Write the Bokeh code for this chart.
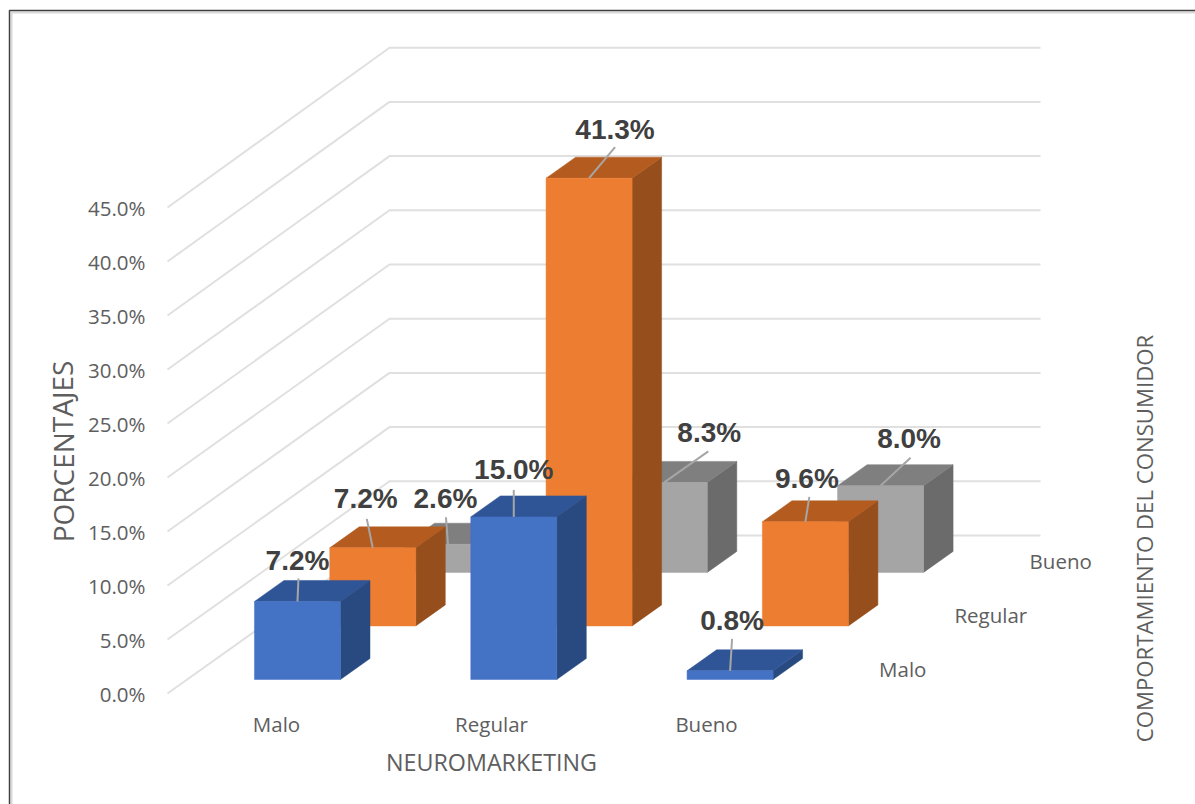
from bokeh.embed import file_html
from bokeh.resources import INLINE
from bokeh.models import Range1d, FixedTicker, PrintfTickFormatter, LinearAxis
from bokeh.plotting import figure
from bokeh.core.properties import value as fixed

# Cross-tabulated percentages: one row per consumer-behaviour level,
# one column per neuromarketing level.
neuromarketing = ["Malo", "Regular", "Bueno"]
comportamiento = ["Malo", "Regular", "Bueno"]
valores_malo = [7.2, 15.0, 0.8]
valores_regular = [7.2, 41.3, 9.6]
valores_bueno = [2.6, 8.3, 8.0]
ticks_pct = [0, 5, 10, 15, 20, 25, 30, 35, 40, 45]
titulo_y = "PORCENTAJES"
titulo_x = "NEUROMARKETING"
titulo_z = "COMPORTAMIENTO DEL CONSUMIDOR"

# Label and leader placement around each bar, in pixels from the middle of its top front edge
leader_px = {
    (0, 0): (1, 23), (1, 0): (0, 27), (2, 0): (2, 32),
    (0, 1): (-6, 29), (1, 1): (26, 31), (2, 1): (4, 25),
    (0, 2): (-2, 27), (1, 2): (44, 31), (2, 2): (30, 28),
}
etiqueta_px = {
    (0, 0): (0, 41), (1, 0): (0, 47), (2, 0): (2, 50),
    (0, 1): (-7, 49), (1, 1): (26, 49), (2, 1): (1.5, 43),
    (0, 2): (-2.5, 46), (1, 2): (45, 50), (2, 2): (28.5, 47),
}

# Oblique projection: x is measured in category steps, y in percentage points.
W, H = 1195, 804
CAT_PX = 216.3
PCT_PX = 10.84
FRONT_PCT_PX = 10.8    # the front edge of the side wall is very slightly compressed
X0_PX = 276
Y0_PX = 693
LEFT_PX = 167
DX = 222 / CAT_PX      # horizontal shift of the full floor depth
DY = 158 / PCT_PX      # vertical shift of the full floor depth
ROW_DEPTH = [0.0886, 0.4278, 0.7665]
BAR_DEPTH = 0.133
BAR_OFF = -0.1928
BAR_W = 86 / CAT_PX


def proj(x, v, d):
    return x + d * DX, v + d * DY


def px_x(px):
    return (px - X0_PX) / CAT_PX


def px_y(py):
    return (Y0_PX - py) / PCT_PX


COLORES = [
    ("#4472C4", "#2F5597", "#294A80"),
    ("#ED7D31", "#B45C1F", "#964F1C"),
    ("#A5A5A5", "#7F7F7F", "#6B6B6B"),
]
TXT = "#5E5E5E"
FONT = "Open Sans"

p = figure(width=W, height=H, output_backend="svg", toolbar_location=None,
           x_range=Range1d(px_x(0), px_x(W)), y_range=Range1d(px_y(H), px_y(0)),
           x_axis_location=None, y_axis_location=None,
           min_border=0, min_border_left=0, min_border_right=0,
           min_border_top=0, min_border_bottom=0)
p.outline_line_color = None
p.grid.visible = False
p.background_fill_color = "white"
p.border_fill_color = "white"
p.extra_y_ranges = {"frente": Range1d((Y0_PX - H) / FRONT_PCT_PX, Y0_PX / FRONT_PCT_PX)}

# Axes sit inside the plot area, at the front corner of the floor
yax = LinearAxis(y_range_name="frente", fixed_location=px_x(LEFT_PX))
yax.ticker = FixedTicker(ticks=ticks_pct)
yax.formatter = PrintfTickFormatter(format="%.1f%%")
yax.axis_line_color = None
yax.major_tick_line_color = None
yax.minor_tick_line_color = None
yax.major_label_text_font = FONT
yax.major_label_text_font_size = "20.5px"
yax.major_label_text_color = TXT
yax.major_label_standoff = 16
p.add_layout(yax, "left")

LABEL_STEP = 0.994
pos_x = [i * LABEL_STEP for i in range(len(neuromarketing))]
xax = LinearAxis(fixed_location=0)
xax.ticker = FixedTicker(ticks=pos_x)
xax.major_label_overrides = {t: n for t, n in zip(pos_x, neuromarketing)}
xax.axis_line_color = None
xax.major_tick_line_color = None
xax.minor_tick_line_color = None
xax.major_label_text_font = FONT
xax.major_label_text_font_size = "20.5px"
xax.major_label_text_color = TXT
xax.major_label_standoff = 10
p.add_layout(xax, "below")

# Side wall and back wall gridlines
wall_x, wall_y = [], []
for t in ticks_pct:
    x0 = px_x(LEFT_PX)
    y0 = t * FRONT_PCT_PX / PCT_PX
    x1, y1 = proj(x0, t, 1)
    wall_x.append([x0, x1, px_x(1040)])
    wall_y.append([y0, y1, y1])
p.multi_line(wall_x, wall_y, line_color="#E0E0E0", line_width=2)

# Bars, drawn from the back row forward
series = [valores_malo, valores_regular, valores_bueno]
for row in (2, 1, 0):
    d0 = ROW_DEPTH[row]
    d1 = d0 + BAR_DEPTH
    front, top, side = COLORES[row]
    for c in range(len(neuromarketing)):
        v = series[row][c]
        l = c + BAR_OFF
        r = l + BAR_W
        corners_front = [proj(l, 0, d0), proj(r, 0, d0), proj(r, v, d0), proj(l, v, d0)]
        corners_side = [proj(r, 0, d0), proj(r, 0, d1), proj(r, v, d1), proj(r, v, d0)]
        corners_top = [proj(l, v, d0), proj(r, v, d0), proj(r, v, d1), proj(l, v, d1)]
        for pts, col in ((corners_side, side), (corners_top, top), (corners_front, front)):
            p.patch([q[0] for q in pts], [q[1] for q in pts], fill_color=col,
                    line_color=col, line_width=0.5)
        cx, cy = proj((l + r) / 2, v, d0)
        ex, ey = leader_px[(c, row)]
        p.line([cx, cx + ex / CAT_PX], [cy, cy + ey / PCT_PX], line_color="#A6A6A6", line_width=2)
        tx, ty = etiqueta_px[(c, row)]
        p.text([cx + tx / CAT_PX], [cy + ty / PCT_PX], text=[f"{v:.1f}%"],
               text_font=fixed("Liberation Sans"), text_font_style="bold",
               text_font_size="28px", text_color="#404040",
               text_align="center", text_baseline="middle")

# Depth-axis category labels
for row, name in enumerate(comportamiento):
    x, y = proj(2.695, 11 / PCT_PX, ROW_DEPTH[row])
    p.text([x], [y], text=[name], text_font=fixed(FONT), text_font_size="20.5px",
           text_color=TXT, text_align="left", text_baseline="middle")


def titulo(px, py, text, size, angle=0):
    p.text([px_x(px)], [px_y(py)], text=[text], angle=angle,
           text_font=fixed(FONT), text_font_size=size, text_color=TXT,
           text_align="center", text_baseline="middle")


titulo(491, 761, titulo_x, "23.3px")
titulo(62, 451, titulo_y, "28px", 1.5708)
titulo(1144, 538, titulo_z, "22.2px", 1.5708)

# Thin frame around the chart, running off the right and bottom edges
for off, col, w in ((2, "#D9D9D9", 2), (0, "#404040", 1.5)):
    p.line([px_x(9 + off), px_x(9 + off), px_x(W + 5)],
           [px_y(H + 5), px_y(10 + off), px_y(10 + off)],
           line_color=col, line_width=w)

open("out.html", "w").write(file_html(p, INLINE))
